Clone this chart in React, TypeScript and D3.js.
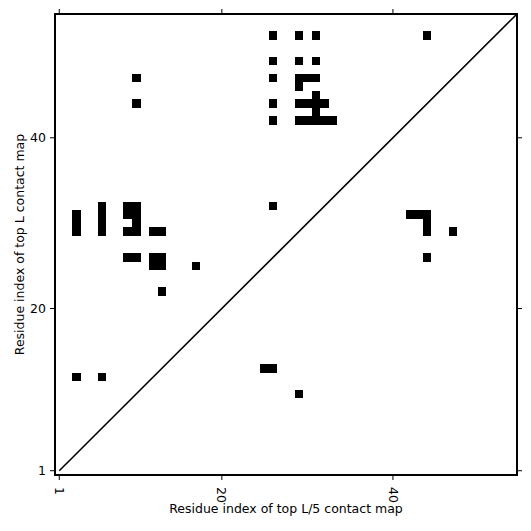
import React from "react";
import * as d3 from "d3";

// Contacts in the upper-left triangle (top L contact map), [column, row]
const topLCols = [26, 29, 31, 44, 26, 29, 31, 10, 26, 29, 30, 31, 29, 31, 10, 26, 29, 30, 31, 32, 31, 26, 29, 30, 31, 32, 33, 26, 3, 3, 3, 6, 6, 6, 6, 9, 10, 9, 10, 10, 9, 10, 12, 13, 9, 10, 12, 13, 12, 13, 17, 13, 3, 6];
const topLRows = [52, 52, 52, 52, 49, 49, 49, 47, 47, 47, 47, 47, 46, 45, 44, 44, 44, 44, 44, 44, 43, 42, 42, 42, 42, 42, 42, 32, 31, 30, 29, 32, 31, 30, 29, 32, 32, 31, 31, 30, 29, 29, 29, 29, 26, 26, 26, 26, 25, 25, 25, 22, 12, 12];

// Contacts in the lower-right triangle (top L/5 contact map), [column, row]
const topL5Cols = [42, 43, 44, 44, 44, 47, 44, 25, 26, 29];
const topL5Rows = [31, 31, 31, 30, 29, 29, 26, 13, 13, 10];

const seqLength = 54;
const tickValues = [1, 20, 40];
const xLabel = "Residue index of top L/5 contact map";
const yLabel = "Residue index of top L contact map";

const W = 531;
const H = 531;
const left = 55;
const right = 517;
const top = 14;
const bottom = 475;
const font = "DejaVu Sans";

export default function App() {
  const x = d3.scaleLinear().domain([0.5, seqLength + 0.5]).range([left, right]);
  const y = d3.scaleLinear().domain([0.5, seqLength + 0.5]).range([bottom, top]);

  const cells = [
    ...topLCols.map((c, i) => ({ c, r: topLRows[i] })),
    ...topL5Cols.map((c, i) => ({ c, r: topL5Rows[i] })),
  ];

  return (
    <svg
      width={W}
      height={H}
      style={{ position: "absolute", left: 0, top: 0, background: "#fff" }}
      fontFamily={font}
    >
      <rect x={0} y={0} width={W} height={H} fill="#fff" />
      {cells.map((d, i) => (
        <rect
          key={i}
          x={x(d.c - 0.5)}
          y={y(d.r + 0.5)}
          width={x(d.c + 0.5) - x(d.c - 0.5)}
          height={y(d.r - 0.5) - y(d.r + 0.5)}
          fill="#000"
          shapeRendering="crispEdges"
        />
      ))}
      <line
        x1={x(1)}
        y1={y(1)}
        x2={x(seqLength + 0.5)}
        y2={y(seqLength + 0.5)}
        stroke="#000"
        strokeWidth={1.6}
      />
      <rect
        x={left}
        y={top}
        width={right - left}
        height={bottom - top}
        fill="none"
        stroke="#000"
        strokeWidth={2}
      />
      {tickValues.map((t) => (
        <g key={"xt" + t}>
          <line x1={x(t)} x2={x(t)} y1={bottom} y2={bottom + 5} stroke="#000" strokeWidth={1} />
          <line x1={x(t)} x2={x(t)} y1={top} y2={top - 5} stroke="#000" strokeWidth={1} />
          <text
            transform={`translate(${x(t)},${bottom + 12}) rotate(90)`}
            dy="0.35em"
            textAnchor="start"
            fontSize={12.5}
            fill="#000"
          >
            {t}
          </text>
        </g>
      ))}
      {tickValues.map((t) => (
        <g key={"yt" + t}>
          <line x1={left} x2={left - 5} y1={y(t)} y2={y(t)} stroke="#000" strokeWidth={1} />
          <line x1={right} x2={right + 5} y1={y(t)} y2={y(t)} stroke="#000" strokeWidth={1} />
          <text x={left - 9} y={y(t)} dy="0.35em" textAnchor="end" fontSize={12.5} fill="#000">
            {t}
          </text>
        </g>
      ))}
      <text x={(left + right) / 2} y={513} textAnchor="middle" fontSize={12.5} fill="#000">
        {xLabel}
      </text>
      <text
        transform={`translate(24,${(top + bottom) / 2}) rotate(-90)`}
        textAnchor="middle"
        fontSize={12.5}
        fill="#000"
      >
        {yLabel}
      </text>
    </svg>
  );
}
